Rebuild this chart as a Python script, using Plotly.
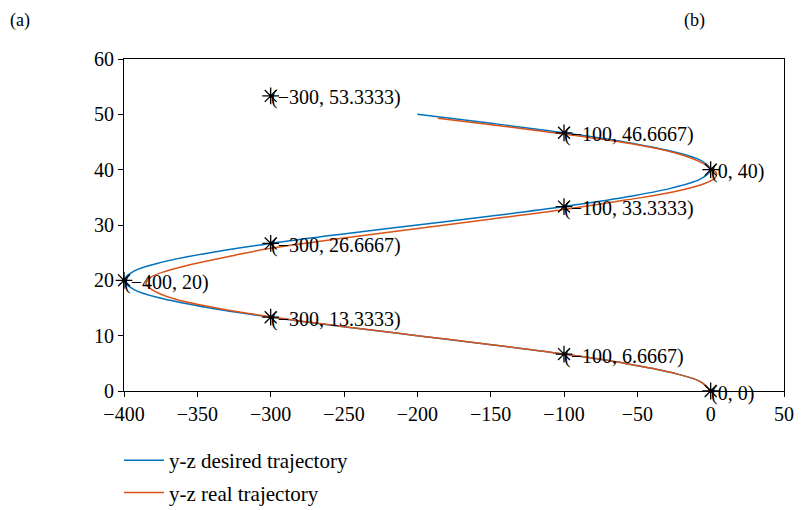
import plotly.graph_objects as go

# y-z desired trajectory (y, z)
desired_y = [0, -6.8, -26.8, -58.6, -100, -148.2, -200, -251.8, -300, -341.4,
             -373.2, -393.2, -400, -393.2, -373.2, -341.4, -300, -251.8, -200,
             -148.2, -100, -58.6, -26.8, -6.8, 0, -6.8, -26.8, -58.6, -100,
             -148.2, -200]
desired_z = [0, 1.667, 3.333, 5, 6.667, 8.333, 10, 11.667, 13.333, 15,
             16.667, 18.333, 20, 21.667, 23.333, 25, 26.667, 28.333, 30,
             31.667, 33.333, 35, 36.667, 38.333, 40, 41.667, 43.333, 45, 46.667,
             48.333, 50]

# y-z real trajectory (y, z)
real_y = [0, -6.8, -26.8, -58.6, -100, -148, -200, -251, -298, -337,
          -366, -381, -385, -382, -371, -352, -325, -300, -254, -205,
          -152, -100, -58, -25, -4, 3, 4, 0, -8, -24, -50, -94, -140, -186]
real_z = [0, 1.667, 3.333, 5, 6.667, 8.333, 10, 11.667, 13.333, 15,
          16.667, 18.333, 19.35, 20.5, 21.7, 23, 24.5, 25.8, 27.5, 29.2,
          31, 32.8, 34.5, 36, 37.5, 38.5, 39.3, 40.3, 41.5, 43, 44.5, 46.2, 47.8, 49.3]

# labelled way-points
point_y = [-300, -100, 0, -100, -300, -400, -300, -100, 0]
point_z = [53.3333, 46.6667, 40, 33.3333, 26.6667, 20, 13.3333, 6.6667, 0]

x_ticks = [-400, -350, -300, -250, -200, -150, -100, -50, 0, 50]
y_ticks = [0, 10, 20, 30, 40, 50, 60]

FONT = "Liberation Serif"
BLUE = "#0072BD"
RED = "#D95319"

# plot-area geometry in pixels
L, R, T, B = 124, 784, 59, 391
W, H = R - L, B - T


def fmt(v):
    return f"{v:g}".replace("-", "\u2212")


fig = go.Figure()
fig.add_trace(go.Scatter(
    x=desired_y, y=desired_z, mode="lines", name="y-z desired trajectory",
    line=dict(color=BLUE, width=1.5, shape="spline", smoothing=1.0),
    legendgroup="a"))
fig.add_trace(go.Scatter(
    x=real_y, y=real_z, mode="lines", name="y-z real trajectory",
    line=dict(color=RED, width=1.5, shape="spline", smoothing=1.0),
    legendgroup="b"))
fig.add_trace(go.Scatter(
    x=point_y, y=point_z, mode="markers", showlegend=False,
    marker=dict(symbol="asterisk-open", size=14, color="black",
                line=dict(color="black", width=1.3)),
    cliponaxis=False))

for py, pz in zip(point_y, point_z):
    fig.add_annotation(x=py, y=pz, xref="x", yref="y",
                       text=f"({fmt(py)}, {fmt(pz)})", showarrow=False,
                       xanchor="left", yanchor="middle", xshift=-2, yshift=-2,
                       font=dict(family=FONT, size=20, color="black"))

# panel labels
for label, px in (("(a)", 8), ("(b)", 682)):
    fig.add_annotation(x=(px - L) / W, y=(B - 20) / H, xref="paper", yref="paper",
                       text=label, showarrow=False, xanchor="left", yanchor="middle",
                       font=dict(family=FONT, size=18, color="black"))

axis_common = dict(
    showline=True, linecolor="black", linewidth=1, mirror=True,
    ticks="outside", ticklen=5, tickcolor="black", tickwidth=1,
    showgrid=False, zeroline=False,
    tickfont=dict(family=FONT, size=20, color="black"),
)
fig.update_xaxes(range=[-400, 50], tickvals=x_ticks, **axis_common)
fig.update_yaxes(range=[0, 60], tickvals=y_ticks, **axis_common)

fig.update_layout(
    width=801, height=510,
    margin=dict(l=L, r=801 - R, t=T, b=510 - B, autoexpand=False),
    paper_bgcolor="white", plot_bgcolor="white",
    font=dict(family=FONT, size=20, color="black"),
    showlegend=True,
    legend=dict(x=(119 - L) / W, y=(B - 440) / H,
                xanchor="left", yanchor="top",
                bgcolor="rgba(0,0,0,0)", borderwidth=0,
                traceorder="grouped", tracegroupgap=2, itemwidth=40,
                font=dict(family=FONT, size=21, color="black")),
)

fig.write_html("out.html")
